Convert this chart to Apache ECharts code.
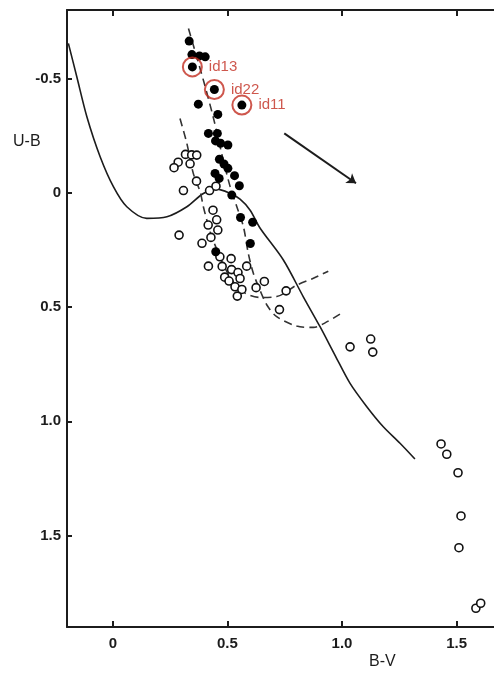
<!DOCTYPE html>
<html>
<head>
<meta charset="utf-8">
<script src="https://cdn.jsdelivr.net/npm/echarts@6/dist/echarts.min.js"></script>
<style>
  html, body { margin: 0; padding: 0; background: #fff; }
  #chart { width: 494px; height: 673px; }
</style>
</head>
<body>
<div id="chart"></div>
<script>
// Two-colour diagram: U-B against B-V (U-B increases downward)

// Axis ticks
const bvTicks = [0, 0.5, 1.0, 1.5];
const bvTickLabels = ['0', '0.5', '1.0', '1.5'];
const ubTicks = [-0.5, 0, 0.5, 1.0, 1.5];
const ubTickLabels = ['-0.5', '0', '0.5', '1.0', '1.5'];

// Filled symbols: [B-V, U-B]
const filledStars = [
  [0.333, -0.664], [0.345, -0.605], [0.378, -0.599], [0.403, -0.595],
  [0.347, -0.551], [0.443, -0.452], [0.373, -0.388], [0.563, -0.384],
  [0.458, -0.343], [0.417, -0.260], [0.456, -0.260], [0.448, -0.227],
  [0.470, -0.217], [0.502, -0.209], [0.465, -0.147], [0.485, -0.126],
  [0.502, -0.107], [0.531, -0.075], [0.446, -0.085], [0.464, -0.063],
  [0.552, -0.031], [0.519, 0.010], [0.557, 0.108], [0.610, 0.129],
  [0.600, 0.222], [0.449, 0.258]
];

// Open symbols: [B-V, U-B]
const openStars = [
  [0.317, -0.168], [0.344, -0.166], [0.366, -0.165], [0.337, -0.127],
  [0.285, -0.134], [0.267, -0.110], [0.365, -0.051], [0.308, -0.010],
  [0.422, -0.010], [0.450, -0.029], [0.437, 0.076], [0.453, 0.118],
  [0.416, 0.141], [0.458, 0.163], [0.289, 0.185], [0.428, 0.195],
  [0.389, 0.221], [0.467, 0.280], [0.516, 0.288], [0.417, 0.321],
  [0.477, 0.322], [0.518, 0.336], [0.546, 0.349], [0.584, 0.321],
  [0.488, 0.369], [0.555, 0.375], [0.507, 0.386], [0.533, 0.411],
  [0.563, 0.423], [0.543, 0.452], [0.625, 0.415], [0.661, 0.388],
  [0.756, 0.429], [0.727, 0.511], [1.035, 0.674], [1.125, 0.640],
  [1.134, 0.697], [1.432, 1.099], [1.457, 1.144], [1.506, 1.225],
  [1.519, 1.414], [1.510, 1.553], [1.584, 1.818], [1.605, 1.796]
];

// Highlighted objects
const labeledIds = ['id13', 'id22', 'id11'];
const labeledBV = [0.347, 0.443, 0.563];
const labeledUB = [-0.551, -0.452, -0.384];

// Solid relation
const solidCurve = [
  [-0.194, -0.654], [-0.157, -0.507], [-0.113, -0.332], [-0.055, -0.157],
  [0.003, -0.026], [0.061, 0.061], [0.148, 0.112], [0.236, 0.105],
  [0.323, 0.061], [0.395, 0.003], [0.454, -0.016], [0.512, 0.003],
  [0.555, 0.028], [0.599, 0.076], [0.642, 0.154], [0.744, 0.294],
  [0.831, 0.455], [0.904, 0.586], [0.969, 0.710], [1.035, 0.834],
  [1.108, 0.936], [1.180, 1.024], [1.253, 1.096], [1.318, 1.165]
];

// Dashed sequences
const dashedRight = [
  [0.330, -0.719], [0.395, -0.493], [0.439, -0.327], [0.475, -0.172],
  [0.512, -0.026], [0.541, 0.061], [0.570, 0.149], [0.591, 0.265],
  [0.613, 0.352], [0.642, 0.426], [0.672, 0.491], [0.715, 0.542],
  [0.802, 0.583], [0.875, 0.589], [0.926, 0.569], [0.991, 0.531]
];
const dashedLeft = [
  [0.293, -0.325], [0.323, -0.216], [0.351, -0.085], [0.381, -0.004],
  [0.395, 0.061], [0.410, 0.119], [0.429, 0.185], [0.446, 0.229],
  [0.477, 0.303], [0.520, 0.382], [0.577, 0.439], [0.642, 0.458],
  [0.715, 0.454], [0.802, 0.404], [0.875, 0.374], [0.940, 0.343]
];

// Reddening direction
const reddeningArrow = [[0.748, -0.260], [1.061, -0.042]];

const ink = '#1c1c1c';
const red = '#c22d20';
const tickFont = { fontFamily: 'Liberation Sans', fontWeight: 'bold', fontSize: 15, color: ink };

const chart = echarts.init(document.getElementById('chart'));

chart.setOption({
  animation: false,
  backgroundColor: '#fff',
  grid: { left: 67, top: 10, right: 0, bottom: 46, containLabel: false },
  xAxis: [
    {
      type: 'value', min: -0.2, max: 1.663, position: 'bottom',
      splitLine: { show: false },
      axisLine: { show: true, onZero: false, lineStyle: { color: ink, width: 2 } },
      axisTick: { show: true, inside: true, length: 6, customValues: bvTicks, lineStyle: { color: ink, width: 2 } },
      axisLabel: {
        show: true, margin: 9, customValues: bvTicks, ...tickFont,
        formatter: v => bvTickLabels[bvTicks.indexOf(+v.toFixed(2))] ?? ''
      }
    },
    {
      type: 'value', min: -0.2, max: 1.663, position: 'top',
      splitLine: { show: false },
      axisLine: { show: true, onZero: false, lineStyle: { color: ink, width: 2 } },
      axisTick: { show: true, inside: true, length: 6, customValues: bvTicks, lineStyle: { color: ink, width: 2 } },
      axisLabel: { show: false }
    }
  ],
  yAxis: {
    type: 'value', min: -0.8, max: 1.9, inverse: true,
    splitLine: { show: false },
    axisLine: { show: true, onZero: false, lineStyle: { color: ink, width: 2 } },
    axisTick: { show: true, inside: true, length: 5, customValues: ubTicks, lineStyle: { color: ink, width: 2 } },
    axisLabel: {
      show: true, margin: 6, customValues: ubTicks, ...tickFont,
      formatter: v => ubTickLabels[ubTicks.indexOf(+v.toFixed(2))] ?? ''
    }
  },
  graphic: [
    { type: 'text', left: 13, top: 134, style: { text: 'U-B', font: '16px "Liberation Sans"', fill: ink } },
    { type: 'text', left: 369, top: 654, style: { text: 'B-V', font: '16px "Liberation Sans"', fill: ink } }
  ],
  series: [
    {
      type: 'line', data: solidCurve, showSymbol: false, smooth: 0.3, z: 2,
      lineStyle: { color: ink, width: 1.6 }
    },
    {
      type: 'line', data: dashedRight, showSymbol: false, smooth: 0.3, z: 2,
      lineStyle: { color: '#333', width: 1.6, type: [8, 5] }
    },
    {
      type: 'line', data: dashedLeft, showSymbol: false, smooth: 0.3, z: 2,
      lineStyle: { color: '#333', width: 1.6, type: [8, 5] }
    },
    {
      type: 'scatter', data: openStars, symbol: 'circle', symbolSize: 8, z: 3,
      itemStyle: { color: '#fff', borderColor: '#111', borderWidth: 1.6, opacity: 1 }
    },
    {
      type: 'scatter', data: filledStars, symbol: 'circle', symbolSize: 9, z: 4,
      itemStyle: { color: '#000', opacity: 1 }
    },
    {
      type: 'scatter', z: 5, symbol: 'circle', symbolSize: 19,
      data: labeledIds.map((id, i) => ({ name: id, value: [labeledBV[i], labeledUB[i]] })),
      itemStyle: { color: 'rgba(0,0,0,0)', borderColor: red, borderWidth: 2 },
      label: {
        show: true, position: 'right', distance: 6, formatter: p => p.name,
        color: red, fontSize: 15, fontFamily: 'Liberation Sans'
      }
    },
    {
      type: 'lines', coordinateSystem: 'cartesian2d', z: 5,
      data: [{ coords: reddeningArrow }],
      symbol: ['none', 'arrow'], symbolSize: 9,
      lineStyle: { color: ink, width: 2, opacity: 1 }
    }
  ]
});
</script>
</body>
</html>
